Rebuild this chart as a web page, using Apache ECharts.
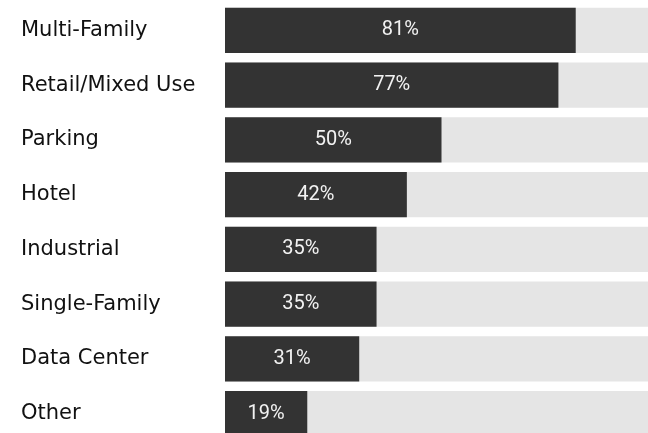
<!DOCTYPE html>
<html>
<head>
<meta charset="utf-8">
<script src="https://cdn.jsdelivr.net/npm/echarts@6/dist/echarts.min.js"></script>
<style>
html,body{margin:0;padding:0;background:#fff;}
#chart{width:648px;height:433px;}
</style>
</head>
<body>
<div id="chart"></div>
<script>
const categories = ["Multi-Family","Retail/Mixed Use","Parking","Hotel","Industrial","Single-Family","Data Center","Other"];
const values = [81,77,50,42,35,35,31,19];

const chart = echarts.init(document.getElementById('chart'), null, {renderer:'canvas'});
chart.setOption({
  animation:false,
  grid:{left:225, top:3, width:433, height:438, containLabel:false, outerBoundsMode:'none'},
  xAxis:{type:'value', min:0, max:100, show:false},
  yAxis:{
    type:'category', data:categories, inverse:true,
    axisLine:{show:false}, axisTick:{show:false}, splitLine:{show:false},
    axisLabel:{align:'left', margin:204, color:'#111', fontSize:21, fontFamily:'DejaVu Sans'}
  },
  series:[{
    type:'bar', data:values, barWidth:'83%',
    itemStyle:{color:'#333333'},
    showBackground:true,
    backgroundStyle:{color:'#e5e5e5'},
    label:{show:true, position:'inside', color:'#f2f2f2', fontSize:20, fontFamily:'Roboto', formatter:p=>p.value+'%'}
  }]
});
</script>
</body>
</html>
